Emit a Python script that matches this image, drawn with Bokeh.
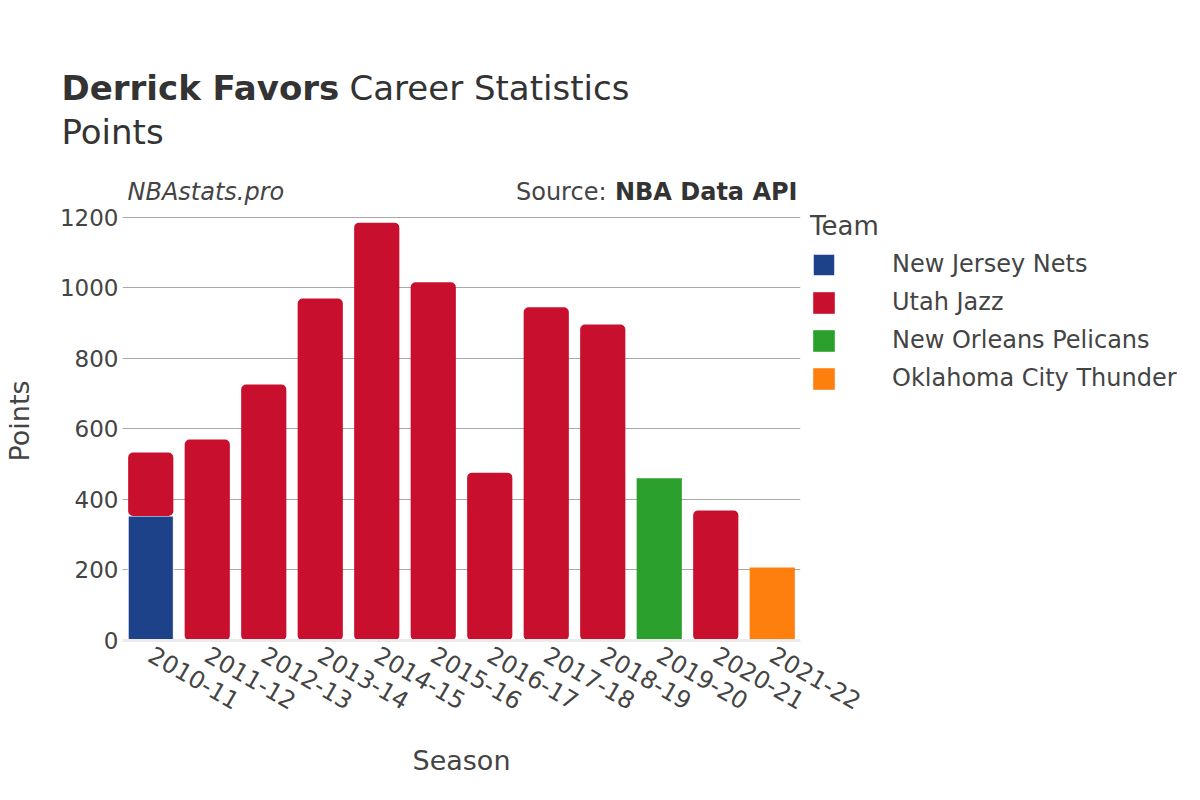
from bokeh.plotting import figure
from bokeh.models import (ColumnDataSource, FactorRange, Range1d, FixedTicker, Title,
                          Legend, LegendItem)
from bokeh.embed import file_html
from bokeh.resources import INLINE
import math

seasons = ["2010-11", "2011-12", "2012-13", "2013-14", "2014-15", "2015-16",
           "2016-17", "2017-18", "2018-19", "2019-20", "2020-21", "2021-22"]
teams = ["New Jersey Nets", "Utah Jazz", "New Orleans Pelicans", "Oklahoma City Thunder"]
colors = ["#1D428A", "#C8102E", "#2CA02C", "#FF7F0E"]
nets = [353, 0, 0, 0, 0, 0, 0, 0, 0, 0, 0, 0]
jazz = [180, 570, 726, 970, 1185, 1016, 476, 945, 896, 0, 369, 0]
pelicans = [0, 0, 0, 0, 0, 0, 0, 0, 0, 460, 0, 0]
thunder = [0, 0, 0, 0, 0, 0, 0, 0, 0, 0, 0, 207]
y_ticks = [0, 200, 400, 600, 800, 1000, 1200]

FONT = "DejaVu Sans"
TXT = "#444444"
DARK = "#333333"

src = ColumnDataSource(dict(season=seasons, nets=nets, jazz=jazz, pelicans=pelicans, thunder=thunder))

p = figure(frame_width=678, frame_height=439, x_range=FactorRange(*seasons), y_range=Range1d(0, 1245),
           output_backend="svg", toolbar_location=None, title=None,
           min_border_left=117, min_border_right=388, min_border_top=201, min_border_bottom=144)
p.outline_line_color = None

keys = ["nets", "jazz", "pelicans", "thunder"]
rs = p.vbar_stack(keys, x="season", width=0.8, source=src, color=colors,
                  line_color=None, border_radius=[5, 5, 0, 0])
rs[0].glyph.border_radius = 0
rs[0].glyph.line_color = "white"
rs[0].glyph.line_width = 1

legend = Legend(items=[LegendItem(label=t, renderers=[r]) for t, r in zip(teams, rs)],
                location="top_left", orientation="vertical", title="Team")
legend.border_line_color = None
legend.background_fill_alpha = 0
legend.padding = 0
legend.margin = 10
legend.spacing = 10
legend.glyph_width = 27
legend.glyph_height = 27
legend.label_height = 22
legend.label_standoff = 55
legend.label_text_font = FONT
legend.label_text_font_size = "24px"
legend.label_text_color = TXT
legend.title_text_font = FONT
legend.title_text_font_size = "26px"
legend.title_text_font_style = "normal"
legend.title_text_color = TXT
legend.title_standoff = 9
p.add_layout(legend, "right")

# ---- titles stacked above the frame (first added = nearest the frame) ----
def fh(px):
    return 1.164 * px


def spacer(height):
    p.add_layout(Title(text=" ", text_font=FONT, text_font_size="10px",
                       vertical_align="middle", standoff=height - 2 - fh(10)), "above")


def zero_title(text, size, style="normal", align="left", offset=0, color=TXT):
    p.add_layout(Title(text=text, text_font=FONT, text_font_size=f"{size}px",
                       text_font_style=style, text_color=color, align=align, offset=offset,
                       vertical_align="middle", standoff=-(2 + fh(size))), "above")


spacer(11)
zero_title("NBAstats.pro", 24, style="italic", align="left", offset=5)
zero_title("NBA Data API", 24, style="bold", align="right", offset=3, color=DARK)
zero_title("Source:", 24, align="right", offset=194)
spacer(61)
zero_title("Points", 34, align="left", offset=-61, color=DARK)
spacer(45)
zero_title("Derrick Favors", 34, style="bold", align="left", offset=-61, color=DARK)
zero_title("Career Statistics", 34, align="left", offset=227, color=DARK)

# ---- axes ----
p.yaxis.ticker = FixedTicker(ticks=y_ticks)
p.yaxis.axis_line_color = None
p.yaxis.major_tick_line_color = None
p.yaxis.minor_tick_line_color = None
p.yaxis.major_tick_out = 0
p.yaxis.major_label_standoff = 4
p.yaxis.major_label_text_font = FONT
p.yaxis.major_label_text_font_size = "23px"
p.yaxis.major_label_text_color = TXT
p.yaxis.axis_label = "Points"
p.yaxis.axis_label_text_font = FONT
p.yaxis.axis_label_text_font_size = "27px"
p.yaxis.axis_label_text_font_style = "normal"
p.yaxis.axis_label_text_color = TXT
p.yaxis.axis_label_standoff = 22

p.xaxis.axis_line_color = "#ebebeb"
p.xaxis.axis_line_width = 3
p.xaxis.major_tick_line_color = None
p.xaxis.minor_tick_line_color = None
p.xaxis.major_tick_out = 0
p.xaxis.major_label_standoff = 12
p.xaxis.major_label_orientation = -math.pi / 6
p.xaxis.major_label_text_font = FONT
p.xaxis.major_label_text_font_size = "24px"
p.xaxis.major_label_text_color = TXT
p.xaxis.axis_label = "Season"
p.xaxis.axis_label_text_font = FONT
p.xaxis.axis_label_text_font_size = "27px"
p.xaxis.axis_label_text_font_style = "normal"
p.xaxis.axis_label_text_color = TXT
p.xaxis.axis_label_standoff = 24

p.xgrid.grid_line_color = None
p.ygrid.grid_line_color = "#a8a8a8"
p.ygrid.grid_line_width = 1

open("out.html", "w").write(file_html(p, INLINE))
